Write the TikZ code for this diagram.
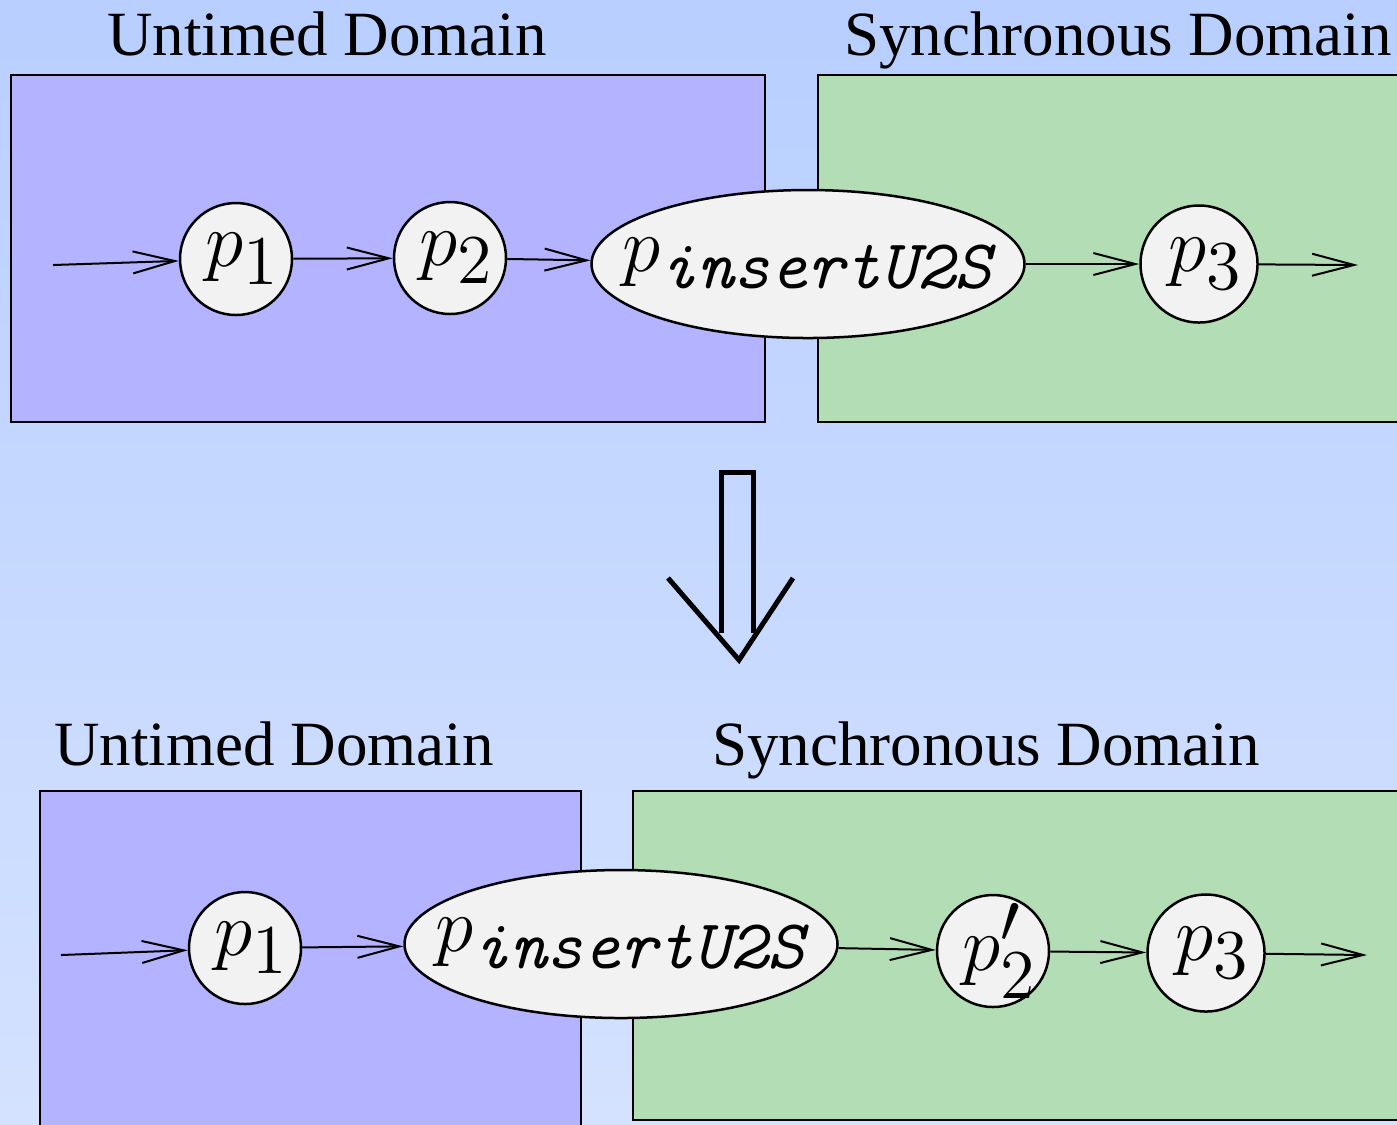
\documentclass[tikz,border=0pt]{standalone}
\usepackage{fix-cm}
\usepackage{amsmath}
\usepackage[no-math]{fontspec}
\setmainfont{Liberation Serif}
\usetikzlibrary{arrows.meta,shapes.geometric}
% large subscripts for the process labels
\DeclareMathSizes{15.5}{15.5}{14}{11}
\definecolor{untimedFill}{RGB}{179,179,255}
\definecolor{syncFill}{RGB}{179,222,181}
\definecolor{procFill}{RGB}{242,242,242}
\definecolor{bgTop}{RGB}{184,207,255}
\definecolor{bgBottom}{RGB}{212,226,255}
\newcommand{\insU}{\text{\ttfamily\itshape insertU2S}}
\newcommand{\dsub}[1]{\lower1.2pt\hbox{$\scriptstyle#1$}}
\begin{document}
\begin{tikzpicture}[x=0.2pt, y=-0.2pt,
  proc/.style={circle, draw, fill=procFill, line width=0.5pt, minimum size=22.4pt,
    inner sep=0pt, font=\fontsize{15.5}{18}\selectfont},
  bridge/.style={ellipse, draw, fill=procFill, line width=0.5pt, minimum width=86.6pt,
    minimum height=29.6pt, inner sep=0pt, font=\fontsize{15.5}{18}\selectfont},
  domainlabel/.style={anchor=base, inner sep=0pt, font=\fontsize{12.6}{15}\selectfont},
  flow/.style={line width=0.4pt, -{Straight Barb[length=8.4pt,width=4.4pt]}},
  box/.style={draw, line width=0.5pt}]
\useasboundingbox (0,0) rectangle (1397,1124);
\begin{scope}
  \clip (0,0) rectangle (1397,1124);
  % Background
  \shade[top color=bgTop, bottom color=bgBottom] (0,0) rectangle (1397,1124);
  % Domains, before
  \path[box, fill=untimedFill] (11,75) rectangle (765,422);
  \path[box, fill=syncFill] (818,75) rectangle (1402,422);
  % Domains, after
  \path[box, fill=untimedFill] (40,791) rectangle (581,1130);
  \path[box, fill=syncFill] (633,791) rectangle (1402,1120);
\end{scope}

% Titles
\node[domainlabel] (untA) at (327,55) {Untimed Domain};
\node[domainlabel] (synA) at (1118,55) {Synchronous Domain};
\node[domainlabel] (untB) at (274,765) {Untimed Domain};
\node[domainlabel] (synB) at (986,765) {Synchronous Domain};

% Before: p1 -> p2 -> insert -> p3
\coordinate (inA) at (53,265);
\coordinate (outA) at (1358,265);
\node[proc] (p1a) at (236,259) {\,$p_{\dsub1}$};
\node[proc] (p2a) at (450,258) {\,$p_{\dsub2}$};
\node[bridge] (insA) at (808,264) {\makebox[0pt]{$p_{\insU}$}};
\node[proc, minimum size=23.4pt] (p3a) at (1199,264) {\,$p_{\dsub3}$};
\draw[flow] (inA) -- (p1a);
\draw[flow] (p1a) -- (p2a);
\draw[flow] (p2a) -- (insA);
\draw[flow] (insA) -- (p3a);
\draw[flow] (p3a) -- (outA);

% Transformation arrow
\begin{scope}[line width=1pt, line join=miter]
  \draw (721,633) -- (721,472) -- (753,472) -- (753,633);
  \draw (668,578) -- (739,660) -- (793,578);
\end{scope}

% After: p1 -> insert -> p2' -> p3
\coordinate (inB) at (61,955);
\coordinate (outB) at (1367,955);
\node[proc] (p1b) at (245,948) {\,$p_{\dsub1}$};
\node[bridge] (insB) at (621,944) {\makebox[0pt]{$p_{\insU}$}};
\node[proc] (p2b) at (993,951) {\makebox[0pt]{\,$p'_{\dsub2}$}};
\node[proc, minimum size=23.4pt] (p3b) at (1206,953) {\,$p_{\dsub3}$};
\draw[flow] (inB) -- (p1b);
\draw[flow] (p1b) -- (insB);
\draw[flow] (insB) -- (p2b);
\draw[flow] (p2b) -- (p3b);
\draw[flow] (p3b) -- (outB);
\end{tikzpicture}
\end{document}
